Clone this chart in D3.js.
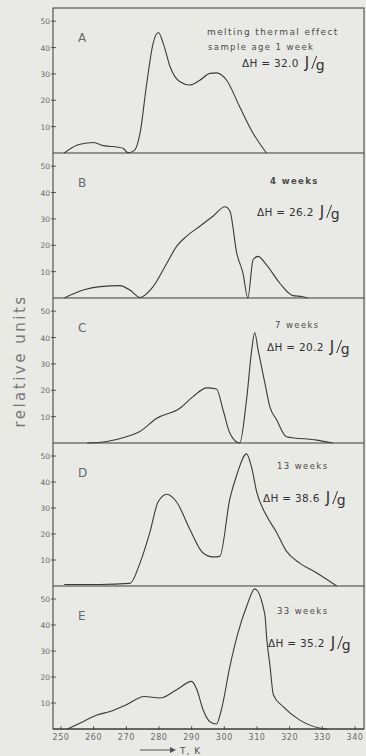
<!DOCTYPE html>
<html>
<head>
<meta charset="utf-8">
<script src="https://cdn.jsdelivr.net/npm/d3@7"></script>
<style>
  html, body { margin: 0; padding: 0; background: #e9e9e6; }
  svg { display: block; }
</style>
</head>
<body>
<div id="chart"></div>
<script>
// panel curves (T in K, relative units)
const tempsA = [251, 255, 258, 260, 263, 267.5, 269, 270.5, 272.5, 274.2, 276.2, 278.2, 279.8, 281.3, 283.4, 286.4, 289.4, 292.5, 295.6, 297.6, 300.7, 304.7, 308.8, 312.9];
const valsA  = [0, 3, 3.8, 4, 2.8, 2.2, 1.8, 0.1, 1, 7.5, 26, 41.6, 45.7, 41.6, 32.7, 27, 25.8, 27.6, 30.2, 30.4, 27.6, 17.5, 7.5, 0];

const tempsB = [251, 256.8, 262, 268, 271.1, 274.2, 278.2, 282.4, 285.4, 288.4, 292.5, 296.5, 300.2, 301.7, 303.8, 305.7, 307.2, 308.8, 310.3, 312.9, 317, 321, 324, 325.5];
const valsB  = [0, 3, 4.3, 4.7, 3, 0.2, 4.3, 13.2, 19.6, 23.4, 27.2, 31, 34.6, 33, 17, 9.4, 0, 14.5, 15.8, 12.6, 5.6, 0.9, 0.5, 0];

const tempsC = [258, 264, 270, 274, 279.3, 286.4, 290.5, 294.6, 297.6, 299.6, 301.7, 304.7, 306.8, 308.4, 309.3, 310.3, 312.4, 313.9, 316, 319, 328.3, 333.2];
const valsC  = [0, 0.6, 2.4, 4.3, 9.4, 13.2, 17.7, 20.9, 20.5, 12.6, 3.7, 0, 16.4, 35.5, 41.9, 35.5, 22.8, 13.9, 8.8, 2.4, 1.1, 0];

const tempsD = [251, 262, 271.1, 274.2, 277.2, 279.7, 282.4, 285.4, 289.4, 293.4, 296.5, 298.6, 301.7, 303.8, 306.8, 308.4, 309.9, 312.9, 316, 319, 323, 328.3, 334.4];
const valsD  = [0.6, 0.6, 1, 8.9, 20.6, 32.3, 35.3, 32.3, 21.9, 12.8, 11.2, 11.4, 33.6, 42.7, 50.8, 45.3, 36.2, 27.1, 20.6, 13.4, 8.9, 5, 0];

const tempsE = [252, 256.7, 261, 265, 270, 275.5, 280.3, 285.4, 290, 291.6, 293.5, 295.6, 297.6, 299.1, 301.7, 304.2, 306.9, 309.3, 312.4, 313, 314, 315, 318, 323, 329, 331.5];
const valsE  = [0, 2.8, 5.4, 6.7, 9.3, 12.5, 11.9, 15.1, 18.3, 15.1, 7.4, 2.8, 1.9, 7.4, 24.1, 37.1, 47.4, 53.9, 44, 34.5, 24.1, 13.2, 8.6, 3.5, 0.4, 0];

const panelLetters = ["A", "B", "C", "D", "E"];
const panelAges = ["sample age 1 week", "4 weeks", "7 weeks", "13 weeks", "33 weeks"];
const panelDH = ["ΔH = 32.0", "ΔH = 26.2", "ΔH = 20.2", "ΔH = 38.6", "ΔH = 35.2"];
const yTicks = [10, 20, 30, 40, 50];
const xTicks = [250, 260, 270, 280, 290, 300, 310, 320, 330, 340];

const panels = [
  { t: tempsA, v: valsA }, { t: tempsB, v: valsB }, { t: tempsC, v: valsC },
  { t: tempsD, v: valsD }, { t: tempsE, v: valsE }
];

const width = 366, height = 756;
const left = 53, right = 364;
const bounds = [8, 153, 298, 443, 586, 729]; // top edges, last one = bottom axis
const ink = "#3a3a3a", faint = "#6a6a6a";
const font = "'DejaVu Sans', sans-serif";

const svg = d3.select("#chart").append("svg")
  .attr("width", width).attr("height", height)
  .style("background", "#e9e9e6");

const x = d3.scaleLinear().domain([250, 340]).range([61, 355]);

// frame
svg.append("rect")
  .attr("x", left).attr("y", bounds[0])
  .attr("width", right - left).attr("height", bounds[5] - bounds[0])
  .attr("fill", "none").attr("stroke", ink).attr("stroke-width", 1);

panels.forEach((p, i) => {
  const top = bounds[i], base = bounds[i + 1];
  const y = d3.scaleLinear().domain([0, 55]).range([base, top]);
  const g = svg.append("g");

  // baseline
  g.append("line")
    .attr("x1", left).attr("x2", right)
    .attr("y1", base).attr("y2", base)
    .attr("stroke", ink).attr("stroke-width", 1.1);

  // y ticks
  yTicks.forEach(t => {
    g.append("line")
      .attr("x1", left - 2).attr("x2", left + 3)
      .attr("y1", y(t)).attr("y2", y(t))
      .attr("stroke", ink).attr("stroke-width", 0.8);
    g.append("text")
      .attr("x", left - 3).attr("y", y(t) + 3)
      .attr("text-anchor", "end")
      .attr("font-family", font).attr("font-size", 7.5)
      .attr("fill", faint)
      .text(t);
  });

  // curve
  const line = d3.line()
    .x((d, k) => x(p.t[k]))
    .y(d => y(d))
    .curve(d3.curveMonotoneX);
  g.append("path")
    .attr("d", line(p.v))
    .attr("fill", "none")
    .attr("stroke", ink)
    .attr("stroke-width", 1.1);

  // panel letter
  g.append("text")
    .attr("x", 78).attr("y", top + 34)
    .attr("font-family", font).attr("font-size", 12)
    .attr("fill", faint)
    .text(panelLetters[i]);
});

// annotations
const note = (txt, xx, yy, size, opts = {}) => svg.append("text")
  .attr("x", xx).attr("y", yy)
  .attr("font-family", font).attr("font-size", size)
  .attr("letter-spacing", opts.ls ?? 1.4)
  .attr("font-weight", opts.bold ? "bold" : "normal")
  .attr("fill", opts.fill ?? "#4a4a4a")
  .attr("text-anchor", opts.anchor ?? "start")
  .text(txt);

note("melting thermal effect", 207, 35, 9);
note(panelAges[0], 208, 50, 8.5);
note("4 weeks", 270, 184, 8.5, { bold: true });
note("7 weeks", 275, 328, 8.5);
note("13 weeks", 277, 469, 8.5);
note("33 weeks", 277, 614, 8.5);

const dhPos = [[242, 67], [257, 216], [267, 351], [263, 502], [268, 647]];
panelDH.forEach((s, i) => {
  const [xx, yy] = dhPos[i];
  const t = note(s, xx, yy, 10.5, { ls: 0.3, fill: "#333" });
  const w = t.node().getComputedTextLength();
  const jx = xx + w + 6;
  note("J", jx, yy + 1, 15, { ls: 0, fill: "#333" });
  svg.append("line")
    .attr("x1", jx + 12).attr("x2", jx + 7)
    .attr("y1", yy - 11).attr("y2", yy + 2)
    .attr("stroke", "#333").attr("stroke-width", 1);
  note("g", jx + 11, yy + 3, 14, { ls: 0, fill: "#333" });
});

// bottom x axis ticks and labels
xTicks.forEach(t => {
  svg.append("line")
    .attr("x1", x(t)).attr("x2", x(t))
    .attr("y1", bounds[5] - 3).attr("y2", bounds[5] + 1)
    .attr("stroke", ink).attr("stroke-width", 0.8);
  svg.append("text")
    .attr("x", x(t)).attr("y", 740)
    .attr("text-anchor", "middle")
    .attr("font-family", font).attr("font-size", 8)
    .attr("letter-spacing", 0.6)
    .attr("fill", faint)
    .text(t);
});

// x label with arrow
svg.append("line")
  .attr("x1", 140).attr("x2", 170)
  .attr("y1", 750).attr("y2", 750)
  .attr("stroke", "#555").attr("stroke-width", 1);
svg.append("path")
  .attr("d", "M170,747 L176,750 L170,753 Z")
  .attr("fill", "#555");
note("T,  K", 180, 754, 9, { ls: 1, fill: "#555" });

// y label
svg.append("text")
  .attr("transform", "translate(25,361) rotate(-90)")
  .attr("text-anchor", "middle")
  .attr("font-family", font).attr("font-size", 15)
  .attr("letter-spacing", 2.5)
  .attr("fill", "#777")
  .text("relative units");
</script>
</body>
</html>
